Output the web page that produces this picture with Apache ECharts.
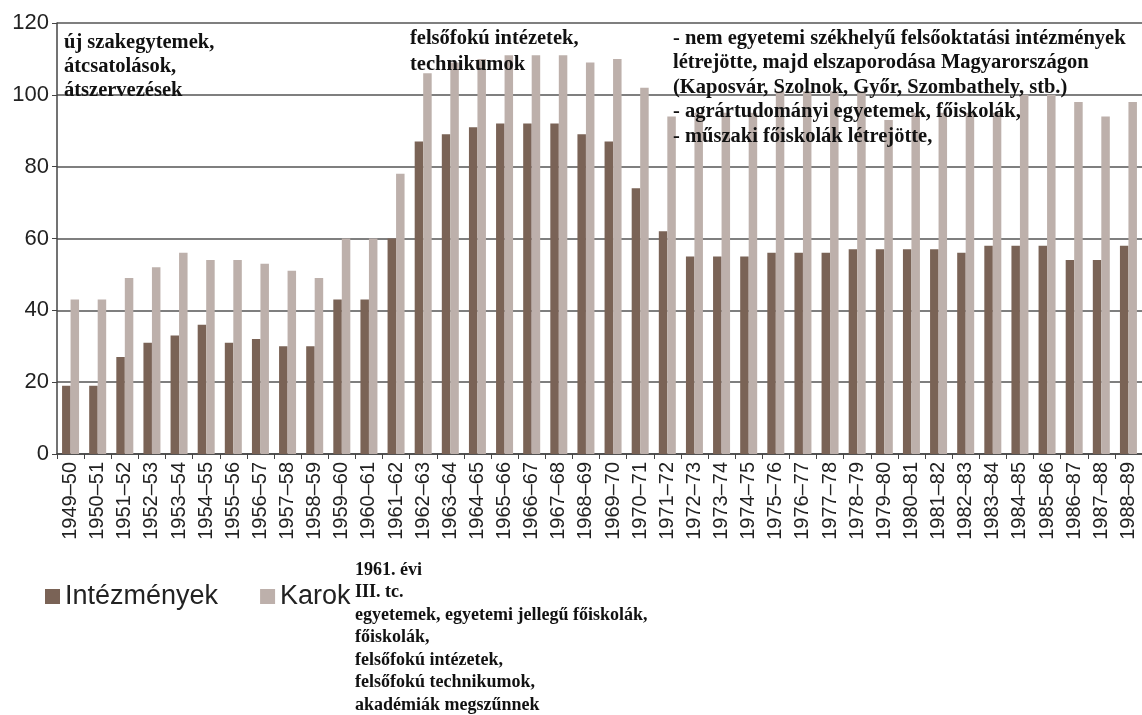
<!DOCTYPE html>
<html>
<head>
<meta charset="utf-8">
<script src="https://cdn.jsdelivr.net/npm/echarts@6/dist/echarts.min.js"></script>
<style>
html,body{margin:0;padding:0;background:#fff;}
#c{width:1142px;height:715px;}
</style>
</head>
<body>
<div id="c"></div>
<script>
const categories = ['1949–50','1950–51','1951–52','1952–53','1953–54','1954–55','1955–56','1956–57','1957–58','1958–59',
  '1959–60','1960–61','1961–62','1962–63','1963–64','1964–65','1965–66','1966–67','1967–68','1968–69',
  '1969–70','1970–71','1971–72','1972–73','1973–74','1974–75','1975–76','1976–77','1977–78','1978–79',
  '1979–80','1980–81','1981–82','1982–83','1983–84','1984–85','1985–86','1986–87','1987–88','1988–89'];
const intezmenyek = [19,19,27,31,33,36,31,32,30,30,
  43,43,60,87,89,91,92,92,92,89,
  87,74,62,55,55,55,56,56,56,57,
  57,57,57,56,58,58,58,54,54,58];
const karok = [43,43,49,52,56,54,54,53,51,49,
  60,60,78,106,109,110,111,111,111,109,
  110,102,94,95,95,95,101,101,101,101,
  93,95,95,95,95,100,100,98,94,98];
const seriesNames = ['Intézmények','Karok'];
const yTicks = {min:0, max:120, interval:20};
const notes = {
  topLeft: ['új szakegytemek,','átcsatolások,','átszervezések'],
  topMid: ['felsőfokú intézetek,','technikumok'],
  topRight: ['- nem egyetemi székhelyű felsőoktatási intézmények','létrejötte, majd elszaporodása Magyarországon','(Kaposvár, Szolnok, Győr, Szombathely, stb.)','- agrártudományi egyetemek, főiskolák,','- műszaki főiskolák létrejötte,'],
  bottom: ['1961. évi','III. tc.','egyetemek, egyetemi jellegű főiskolák,','főiskolák,','felsőfokú intézetek,','felsőfokú technikumok,','akadémiák megszűnnek']
};

const chart = echarts.init(document.getElementById('c'), null, {renderer:'canvas'});
const serif = '"Liberation Serif","Times New Roman",serif';
const sans = '"Liberation Sans",Arial,sans-serif';
function textBlock(lines, left, top, size, lh) {
  return {
    type:'text', left:left, top:top, z:100,
    style:{text:lines.join('\n'), font:'bold '+size+'px '+serif, fill:'#111', lineHeight:lh}
  };
}
chart.setOption({
  animation:false,
  backgroundColor:'#fff',
  grid:{left:57, right:-5, top:23, bottom:261, containLabel:false},
  legend:{
    left:40, top:578, itemWidth:15, itemHeight:15, itemGap:42,
    icon:'rect',
    textStyle:{fontFamily:sans, fontSize:27, color:'#222'},
    data:seriesNames
  },
  xAxis:{
    type:'category', data:categories,
    axisLine:{lineStyle:{color:'#444', width:1.5}},
    axisTick:{show:true, interval:0, length:5, lineStyle:{color:'#444'}},
    axisLabel:{interval:0, rotate:90, fontFamily:sans, fontSize:20, color:'#222', margin:8}
  },
  yAxis:{
    type:'value', min:yTicks.min, max:yTicks.max, interval:yTicks.interval,
    axisLine:{show:true, lineStyle:{color:'#444', width:1.5}},
    axisTick:{show:true, length:5, lineStyle:{color:'#444'}},
    axisLabel:{fontFamily:sans, fontSize:22, color:'#222', margin:8},
    splitLine:{lineStyle:{color:'#555', width:1.5}}
  },
  series:[
    {name:seriesNames[0], type:'bar', data:intezmenyek, barWidth:8.5, barGap:'0%', itemStyle:{color:'#7a6356'}},
    {name:seriesNames[1], type:'bar', data:karok, barWidth:8.5, barGap:'0%', itemStyle:{color:'#bdb0ab'}}
  ],
  graphic:[
    textBlock(notes.topLeft, 64, 31, 20.5, 24),
    textBlock(notes.topMid, 410, 26, 20.5, 26),
    textBlock(notes.topRight, 673, 26, 20.5, 24.6),
    textBlock(notes.bottom, 355, 559, 18, 22.5)
  ]
});
</script>
</body>
</html>
